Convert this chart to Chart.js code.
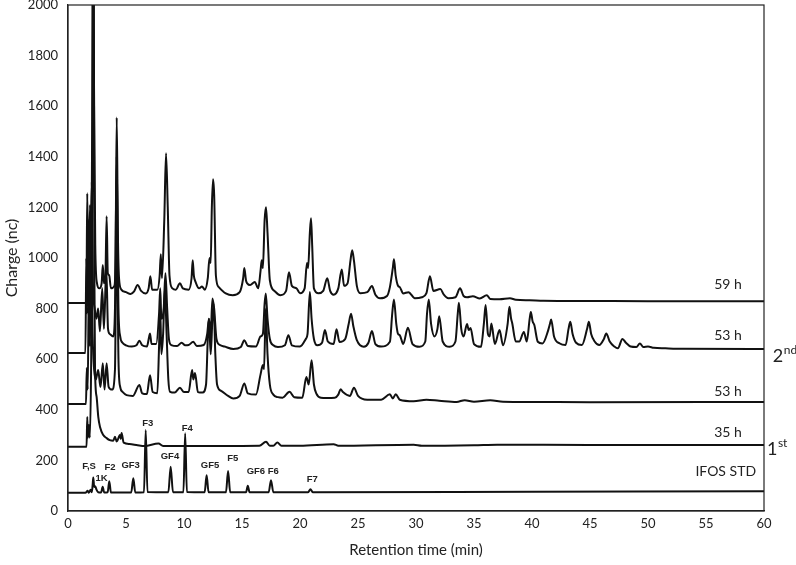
<!DOCTYPE html>
<html><head><meta charset="utf-8">
<script src="https://cdn.jsdelivr.net/npm/chart.js@4/dist/chart.umd.min.js"></script>
<style>html,body{margin:0;padding:0;background:#fff}</style>
</head><body>
<canvas id="c" width="796" height="565"></canvas>
<script>
// ---- data (time in min, charge in nC) ----
const xTickLabels = ['0','5','10','15','20','25','30','35','40','45','50','55','60'];
const yTickLabels = ['0','200','400','600','800','1000','1200','1400','1600','1800','2000'];

const trace59h = [[0,822],[1.55,822],[1.6,900],[1.66,1256],[1.74,980],[1.82,1000],[1.9,1209],[1.98,1000],[2.08,1500],[2.15,2600],[2.25,1600],[2.35,1050],[2.5,900],[2.7,880],[2.9,900],[3.0,972],[3.1,900],[3.22,920],[3.33,1165],[3.43,940],[3.55,932],[3.7,880],[4.0,890],[4.1,1000],[4.2,1555],[4.3,1100],[4.4,920],[4.6,875],[5.0,865],[5.4,858],[5.7,868],[6.0,893],[6.3,870],[6.7,860],[6.95,880],[7.1,928],[7.25,875],[7.7,875],[7.9,930],[8.0,1015],[8.1,920],[8.3,1150],[8.45,1414],[8.6,1200],[8.75,930],[9.0,880],[9.3,875],[9.65,900],[9.9,880],[10.4,875],[10.65,920],[10.75,991],[10.85,930],[11.0,905],[11.3,880],[11.55,887],[11.8,875],[12.05,920],[12.2,1000],[12.3,980],[12.4,1200],[12.5,1311],[12.6,1250],[12.75,930],[13.0,885],[13.6,860],[14.2,853],[14.8,865],[15.1,920],[15.2,960],[15.35,910],[15.45,900],[15.7,893],[16.1,905],[16.4,880],[16.6,950],[16.7,991],[16.8,960],[16.95,1150],[17.07,1201],[17.2,1100],[17.4,912],[17.8,870],[18.3,853],[18.8,870],[19.05,944],[19.3,890],[19.7,880],[20.0,861],[20.4,880],[20.6,980],[20.7,960],[20.85,1100],[20.95,1157],[21.05,1050],[21.2,880],[21.6,861],[22.0,870],[22.35,920],[22.6,870],[22.9,855],[23.3,880],[23.6,955],[23.8,890],[24.1,900],[24.35,990],[24.5,1031],[24.65,990],[24.9,890],[25.2,861],[25.8,865],[26.2,889],[26.5,855],[26.9,841],[27.5,850],[27.75,885],[28.0,960],[28.1,995],[28.25,930],[28.45,890],[28.6,885],[28.9,860],[29.35,865],[29.9,841],[30.5,845],[30.9,861],[31.2,928],[31.5,870],[32.1,877],[32.4,855],[32.8,841],[33.4,845],[33.8,880],[34.1,850],[34.4,845],[34.9,849],[35.5,840],[36.1,853],[36.4,838],[37.2,837],[38.1,841],[38.6,835],[39.8,833],[41,831],[45,830],[50,829],[60,829]];

const trace53h2 = [[0,625],[1.5,625],[1.58,1000],[1.65,780],[1.75,1150],[1.85,820],[1.95,1000],[2.05,1300],[2.15,900],[2.3,800],[2.45,760],[2.6,800],[2.75,710],[2.95,880],[3.1,720],[3.3,960],[3.45,720],[3.6,700],[3.9,690],[4.05,800],[4.2,1400],[4.35,800],[4.5,690],[4.7,665],[5.0,655],[5.5,650],[5.9,655],[6.15,673],[6.4,655],[6.8,650],[7.0,690],[7.07,702],[7.2,660],[7.6,660],[7.85,780],[7.95,880],[8.05,760],[8.25,800],[8.4,940],[8.55,800],[8.7,680],[8.9,656],[9.4,652],[9.8,665],[10.1,655],[10.4,656],[10.8,669],[11.1,652],[11.7,656],[12.0,700],[12.15,760],[12.3,700],[12.45,840],[12.6,800],[12.8,680],[13.1,656],[13.5,650],[14.25,640],[14.9,648],[15.2,675],[15.5,652],[16.2,650],[16.6,690],[16.8,700],[16.95,820],[17.05,860],[17.2,760],[17.4,680],[17.7,655],[18.1,648],[18.7,655],[19.0,695],[19.3,655],[20.0,650],[20.5,680],[20.65,700],[20.85,866],[21.0,760],[21.2,680],[21.5,655],[21.9,665],[22.15,715],[22.4,670],[22.9,660],[23.15,718],[23.4,668],[23.9,680],[24.2,740],[24.4,780],[24.6,730],[24.9,675],[25.5,649],[25.9,665],[26.2,711],[26.5,660],[27.0,650],[27.75,669],[27.95,780],[28.1,836],[28.3,740],[28.45,700],[28.6,695],[28.9,660],[29.3,724],[29.7,660],[30.3,649],[30.8,670],[30.95,780],[31.1,836],[31.3,740],[31.6,690],[31.85,720],[32.0,770],[32.3,670],[32.9,649],[33.4,670],[33.6,780],[33.7,823],[33.9,720],[34.1,690],[34.4,739],[34.55,715],[34.7,723],[35.0,660],[35.6,649],[35.85,740],[36.0,814],[36.2,700],[36.35,690],[36.5,741],[36.8,660],[37.2,715],[37.5,655],[37.9,740],[38.05,807],[38.2,760],[38.3,741],[38.6,670],[38.9,670],[39.3,708],[39.55,670],[39.8,760],[39.9,787],[40.05,750],[40.2,735],[40.5,669],[40.9,662],[41.4,715],[41.55,740],[41.65,757],[41.9,690],[42.4,662],[42.9,656],[43.15,720],[43.3,748],[43.5,700],[43.8,665],[44.3,656],[44.75,720],[44.9,748],[45.1,700],[45.4,670],[45.8,656],[46.2,680],[46.4,702],[46.7,670],[47.1,650],[47.4,643],[47.8,680],[48.1,665],[48.5,650],[49.0,648],[49.3,662],[49.6,648],[50.0,650],[50.5,645],[51.5,643],[53,641],[60,640]];

const trace53h1 = [[0,423],[1.55,423],[1.62,565],[1.7,480],[1.8,900],[1.9,650],[2.0,1050],[2.12,700],[2.25,560],[2.4,520],[2.6,557],[2.8,490],[3.0,584],[3.15,480],[3.33,584],[3.5,491],[3.8,480],[4.05,560],[4.2,1200],[4.35,600],[4.5,490],[4.7,471],[5.05,458],[5.6,455],[6.15,498],[6.4,465],[6.8,462],[7.07,537],[7.3,470],[7.7,465],[7.85,650],[7.95,800],[8.05,620],[8.2,700],[8.35,880],[8.5,700],[8.65,520],[8.8,471],[9.2,468],[9.65,487],[10.0,470],[10.4,470],[10.7,557],[10.8,520],[10.95,545],[11.2,470],[11.6,468],[11.9,500],[12.05,680],[12.15,760],[12.3,620],[12.45,760],[12.55,820],[12.7,620],[12.85,500],[13.2,475],[13.8,455],[14.25,445],[14.8,455],[15.2,504],[15.5,465],[16.2,460],[16.6,540],[16.8,577],[16.9,560],[17.05,800],[17.2,620],[17.4,500],[17.7,460],[18.1,450],[18.5,448],[19.1,471],[19.5,450],[20.2,448],[20.55,530],[20.75,500],[21.0,596],[21.2,500],[21.4,465],[21.8,448],[22.3,447],[23.0,448],[23.3,460],[23.5,481],[23.7,470],[24.3,455],[24.65,487],[25.0,455],[25.8,440],[27.0,440],[27.75,461],[28.0,445],[28.25,461],[28.6,440],[29.8,434],[30.9,440],[32.0,436],[33.5,431],[34.2,438],[35.0,432],[36.4,438],[37.5,432],[40,431],[45,430],[60,431]];

const trace35h = [[0,254],[1.6,254],[1.66,372],[1.72,290],[1.8,340],[1.88,290],[2.0,600],[2.12,1500],[2.2,2400],[2.28,900],[2.33,557],[2.47,450],[2.61,372],[2.76,332],[3.04,300],[3.33,288],[3.6,280],[3.9,278],[4.05,293],[4.2,275],[4.48,300],[4.55,285],[4.62,308],[4.8,270],[5.3,265],[6.0,260],[6.6,257],[7.8,267],[8.2,257],[10,257],[13,257],[16.5,258],[17.07,274],[17.4,258],[17.7,258],[18.05,271],[18.4,258],[20,258],[22.9,264],[23.3,258],[29.8,262],[30.5,258],[35,260],[37,262],[45,261],[60,261]];

const traceIFOS = [[0,72],[1.5,72],[1.7,80],[1.8,72],[1.95,84],[2.05,74],[2.12,100],[2.18,132],[2.26,95],[2.35,98],[2.45,85],[2.6,74],[2.85,73],[2.99,96],[3.12,73],[3.42,74],[3.56,118],[3.7,73],[5.45,73],[5.63,129],[5.8,73],[6.55,74],[6.7,320],[6.85,75],[8.65,74],[8.85,175],[9.05,74],[9.95,74],[10.1,307],[10.25,75],[11.78,74],[11.95,141],[12.12,74],[13.62,74],[13.8,158],[13.98,74],[15.35,74],[15.5,100],[15.65,74],[17.3,74],[17.5,122],[17.7,74],[20.7,74],[20.9,86],[21.1,74],[40,76],[60,78]];

// peak labels of the IFOS standard
const peakNames = ['F,S','1K','F2','GF3','F3','GF4','F4','GF5','F5','GF6','F6','F7'];
const peakLabelTime = [1.81,2.9,3.62,5.4,6.87,8.79,10.28,12.24,14.2,16.2,17.7,21.06];
const peakLabelCharge = [178,130,171,179,347,217,327,179,208,158,155,126];

// trace labels (right side)
const traceNames = ['59 h','53 h','53 h','35 h','IFOS STD'];
const traceLabelTime = [56.9,56.9,56.9,56.9,56.7];
const traceLabelCharge = [896,693,474,310,155];

// harvest labels outside the plot
const harvestMain = ['2','1'];
const harvestSup = ['nd','st'];
const harvestTime = [61.1,60.6];
const harvestCharge = [620,252];

const toPts = arr => arr.map(p => ({x: p[0], y: p[1]}));
const series = [trace59h, trace53h2, trace53h1, trace35h, traceIFOS];

const labelPlugin = {
  id: 'labels',
  afterDraw(chart) {
    const {ctx, chartArea: a, scales: {x, y}} = chart;
    ctx.save();
    // frame (top and right sides)
    ctx.strokeStyle = '#222';
    ctx.lineWidth = 1.2;
    ctx.strokeRect(a.left, a.top, a.right - a.left, a.bottom - a.top);
    // peak labels
    ctx.fillStyle = '#222';
    ctx.textAlign = 'center';
    ctx.textBaseline = 'middle';
    ctx.font = 'bold 9.5px "Liberation Sans", Arial, sans-serif';
    peakNames.forEach((n, i) => {
      ctx.fillText(n, x.getPixelForValue(peakLabelTime[i]), y.getPixelForValue(peakLabelCharge[i]));
    });
    // trace labels
    ctx.font = '14px Lato, sans-serif';
    traceNames.forEach((n, i) => {
      ctx.fillText(n, x.getPixelForValue(traceLabelTime[i]), y.getPixelForValue(traceLabelCharge[i]));
    });
    // harvest labels with superscript
    ctx.textAlign = 'left';
    harvestMain.forEach((m, i) => {
      const px = x.getPixelForValue(harvestTime[i]);
      const py = y.getPixelForValue(harvestCharge[i]);
      ctx.font = '18px Lato, sans-serif';
      ctx.fillText(m, px - 4, py + 2);
      const w = ctx.measureText(m).width;
      ctx.font = '12px Lato, sans-serif';
      ctx.fillText(harvestSup[i], px - 4 + w + 0.5, py - 4);
    });
    ctx.restore();
  }
};

new Chart(document.getElementById('c'), {
  type: 'line',
  data: {
    datasets: series.map(s => ({
      data: toPts(s),
      borderColor: '#111',
      borderWidth: 2,
      pointRadius: 0,
      fill: false,
      cubicInterpolationMode: 'monotone'
    }))
  },
  options: {
    responsive: false,
    animation: false,
    devicePixelRatio: 1,
    layout: {padding: {left: 0, top: 5, right: 32, bottom: 0}},
    plugins: {legend: {display: false}, tooltip: {enabled: false}},
    scales: {
      x: {
        type: 'linear', min: 0, max: 60,
        grid: {display: false, drawTicks: false},
        border: {display: true, color: '#222', width: 1.2},
        ticks: {stepSize: 5, padding: 5, color: '#222', font: {family: 'Lato', size: 13},
          callback: (v) => xTickLabels[Math.round(v / 5)]},
        title: {display: true, text: 'Retention time (min)', color: '#222',
          font: {family: 'Lato', size: 15}, padding: {top: 0, bottom: 6}},
        afterFit: s => { s.height = 54; s.paddingLeft = 0; s.paddingRight = 0; }
      },
      y: {
        min: 0, max: 2000,
        grid: {display: false, drawTicks: false},
        border: {display: true, color: '#222', width: 1.2},
        ticks: {stepSize: 200, padding: 10, color: '#222', font: {family: 'Lato', size: 13},
          callback: (v) => yTickLabels[Math.round(v / 200)]},
        title: {display: true, text: 'Charge (nc)', color: '#222',
          font: {family: 'Lato', size: 16}, padding: {top: 2, bottom: 0}},
        afterFit: s => { s.width = 68; s.paddingTop = 0; s.paddingBottom = 0; }
      }
    }
  },
  plugins: [labelPlugin]
});
</script>
</body></html>
